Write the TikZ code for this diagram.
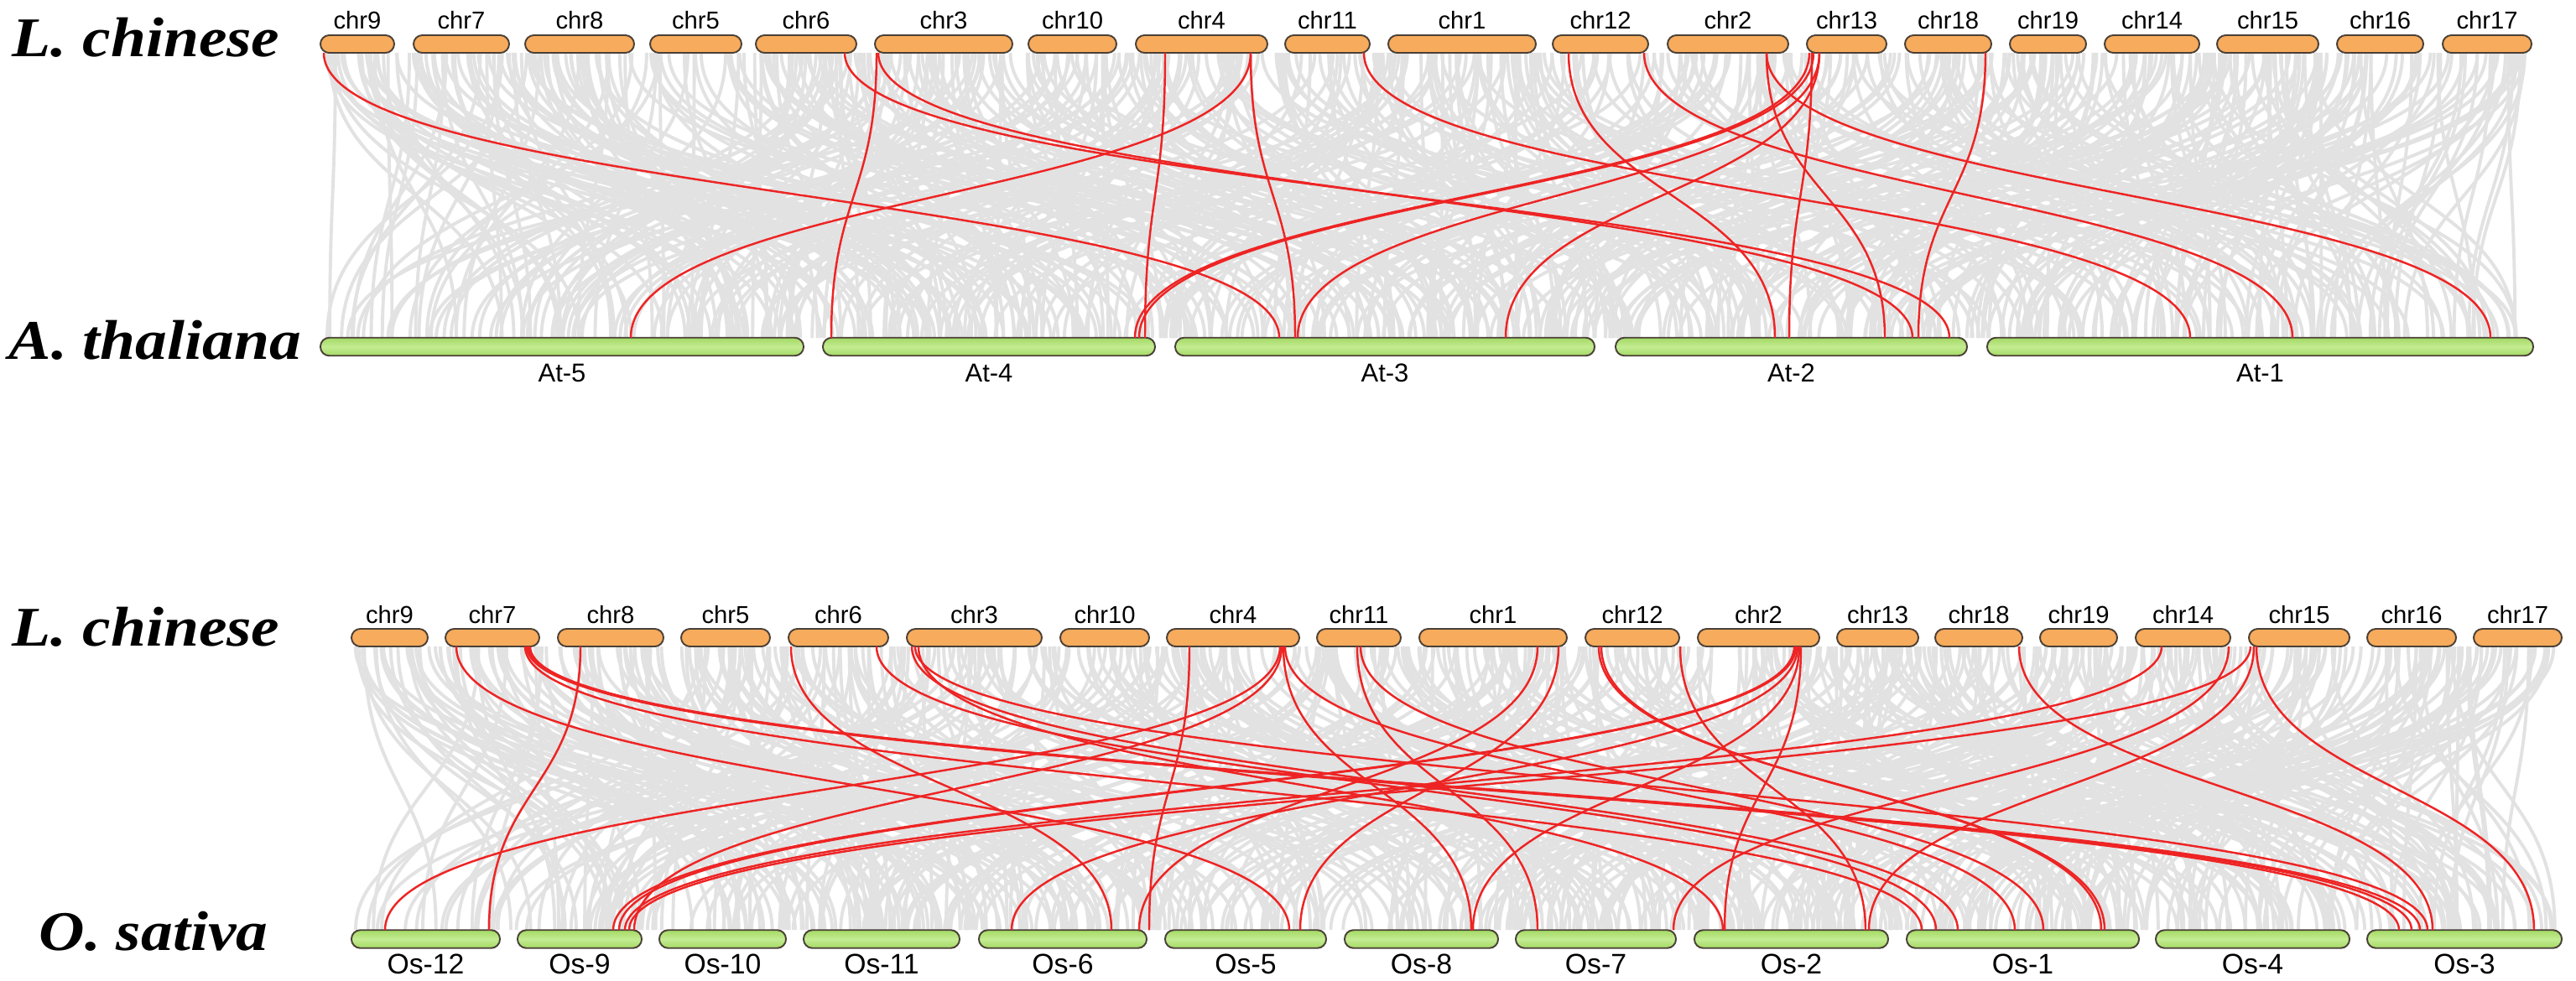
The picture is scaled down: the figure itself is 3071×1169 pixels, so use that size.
\documentclass[tikz,border=0pt]{standalone}
\usepackage{fontspec}
\setmainfont{Liberation Serif}
\setsansfont{Liberation Sans}
\usetikzlibrary{calc}
\definecolor{chrorange}{HTML}{F7AB5C}
\definecolor{chrgreen}{HTML}{A3D964}
\definecolor{chrgreenlt}{HTML}{C4EC92}
\definecolor{chredge}{HTML}{4A4037}
\definecolor{linkred}{HTML}{EE2424}
\definecolor{linkgrey}{HTML}{E2E2E2}
\newcommand\rl[4]{\draw[redlink] (#1.south -| #2,0) .. controls +(0,170) and +(0,-170) .. (#3.north -| #4,0);}
\newcommand\chrbar[8]{%
  \pgfmathsetmacro\cx{(#2+#3)/2}%
  \pgfmathsetmacro\cw{(#3-#2)*0.01}%
  \node[#5, minimum width=\cw cm] (#1) at (\cx,#4) {};
  \node[#6] (#1l) at (\cx,#7) {#8};}
\begin{document}
\begin{tikzpicture}[x=0.01cm,y=-0.01cm,
  orangebox/.style={draw=chredge, line width=0.55pt, fill=chrorange, rounded corners=0.105cm, minimum height=0.21cm, inner sep=0pt, outer sep=0pt},
  greenbox/.style={draw=chredge, line width=0.55pt, top color=chrgreen, bottom color=chrgreen, middle color=chrgreenlt, rounded corners=0.105cm, minimum height=0.215cm, inner sep=0pt, outer sep=0pt},
  chrlab/.style={font=\sffamily\fontsize{8.3pt}{9pt}\selectfont, inner sep=0pt},
  atlab/.style={font=\sffamily\fontsize{8.8pt}{9pt}\selectfont, inner sep=0pt},
  oslab/.style={font=\sffamily\fontsize{9.6pt}{10pt}\selectfont, inner sep=0pt},
  species/.style={font=\bfseries\itshape\fontsize{19pt}{21pt}\selectfont, inner sep=0pt, anchor=base west},
  redlink/.style={draw=linkred, line width=0.7pt},
  greylink/.style={draw=linkgrey, line width=1.1pt}]
\useasboundingbox (0,0) rectangle (3071,1169);
\fill[white] (0,0) rectangle (3071,1169);
% grey background links
\coordinate (topA) at (0,63);
\coordinate (botA) at (0,403);
\coordinate (topB) at (0,771);
\coordinate (botB) at (0,1109);
\pgfmathsetseed{1234}
\foreach \i in {1,...,650}{
  \pgfmathsetmacro\xa{388+rnd*2626}
  \pgfmathsetmacro\lo{max(388,\xa-800)}
  \pgfmathsetmacro\hi{min(3014,\xa+800)}
  \pgfmathsetmacro\xb{\lo+rnd*(\hi-\lo)}
  \draw[greylink] (topA -| \xa,0) .. controls +(0,170) and +(0,-170) .. (botA -| \xb,0);
}
\foreach \i in {1,...,650}{
  \pgfmathsetmacro\xa{423+rnd*2626}
  \pgfmathsetmacro\lo{max(423,\xa-800)}
  \pgfmathsetmacro\hi{min(3049,\xa+800)}
  \pgfmathsetmacro\xb{\lo+rnd*(\hi-\lo)}
  \draw[greylink] (topB -| \xa,0) .. controls +(0,170) and +(0,-170) .. (botB -| \xb,0);
}
% species labels
\node[species] (sp1) at (14,67) {\scalebox{1.13}[1]{L. chinese}};
\node[species] (sp2) at (10,428) {\scalebox{1.13}[1]{A. thaliana}};
\node[species] (sp3) at (14,770) {\scalebox{1.13}[1]{L. chinese}};
\node[species] (sp4) at (46,1133) {\scalebox{1.13}[1]{O. sativa}};
% row 1
\chrbar{Tc9}{382}{470}{52.5}{orangebox}{chrlab}{24}{chr9}
\chrbar{Tc7}{493}{607}{52.5}{orangebox}{chrlab}{24}{chr7}
\chrbar{Tc8}{626}{756}{52.5}{orangebox}{chrlab}{24}{chr8}
\chrbar{Tc5}{775}{884}{52.5}{orangebox}{chrlab}{24}{chr5}
\chrbar{Tc6}{901}{1021}{52.5}{orangebox}{chrlab}{24}{chr6}
\chrbar{Tc3}{1043}{1207}{52.5}{orangebox}{chrlab}{24}{chr3}
\chrbar{Tc10}{1226}{1331}{52.5}{orangebox}{chrlab}{24}{chr10}
\chrbar{Tc4}{1354}{1511}{52.5}{orangebox}{chrlab}{24}{chr4}
\chrbar{Tc11}{1532}{1633}{52.5}{orangebox}{chrlab}{24}{chr11}
\chrbar{Tc1}{1655}{1831}{52.5}{orangebox}{chrlab}{24}{chr1}
\chrbar{Tc12}{1851}{1965}{52.5}{orangebox}{chrlab}{24}{chr12}
\chrbar{Tc2}{1988}{2132}{52.5}{orangebox}{chrlab}{24}{chr2}
\chrbar{Tc13}{2154}{2249}{52.5}{orangebox}{chrlab}{24}{chr13}
\chrbar{Tc18}{2271}{2374}{52.5}{orangebox}{chrlab}{24}{chr18}
\chrbar{Tc19}{2396}{2487}{52.5}{orangebox}{chrlab}{24}{chr19}
\chrbar{Tc14}{2509}{2622}{52.5}{orangebox}{chrlab}{24}{chr14}
\chrbar{Tc15}{2643}{2764}{52.5}{orangebox}{chrlab}{24}{chr15}
\chrbar{Tc16}{2786}{2889}{52.5}{orangebox}{chrlab}{24}{chr16}
\chrbar{Tc17}{2912}{3018}{52.5}{orangebox}{chrlab}{24}{chr17}
% row 2
\chrbar{At5}{382}{958}{413.5}{greenbox}{atlab}{445}{At-5}
\chrbar{At4}{981}{1377}{413.5}{greenbox}{atlab}{445}{At-4}
\chrbar{At3}{1401}{1901}{413.5}{greenbox}{atlab}{445}{At-3}
\chrbar{At2}{1926}{2345}{413.5}{greenbox}{atlab}{445}{At-2}
\chrbar{At1}{2369}{3020}{413.5}{greenbox}{atlab}{445}{At-1}
% row 3
\chrbar{Bc9}{419}{510}{760.5}{orangebox}{chrlab}{733}{chr9}
\chrbar{Bc7}{531}{643}{760.5}{orangebox}{chrlab}{733}{chr7}
\chrbar{Bc8}{665}{791}{760.5}{orangebox}{chrlab}{733}{chr8}
\chrbar{Bc5}{812}{918}{760.5}{orangebox}{chrlab}{733}{chr5}
\chrbar{Bc6}{940}{1059}{760.5}{orangebox}{chrlab}{733}{chr6}
\chrbar{Bc3}{1081}{1242}{760.5}{orangebox}{chrlab}{733}{chr3}
\chrbar{Bc10}{1264}{1370}{760.5}{orangebox}{chrlab}{733}{chr10}
\chrbar{Bc4}{1391}{1549}{760.5}{orangebox}{chrlab}{733}{chr4}
\chrbar{Bc11}{1570}{1670}{760.5}{orangebox}{chrlab}{733}{chr11}
\chrbar{Bc1}{1692}{1868}{760.5}{orangebox}{chrlab}{733}{chr1}
\chrbar{Bc12}{1890}{2002}{760.5}{orangebox}{chrlab}{733}{chr12}
\chrbar{Bc2}{2024}{2169}{760.5}{orangebox}{chrlab}{733}{chr2}
\chrbar{Bc13}{2190}{2287}{760.5}{orangebox}{chrlab}{733}{chr13}
\chrbar{Bc18}{2307}{2411}{760.5}{orangebox}{chrlab}{733}{chr18}
\chrbar{Bc19}{2432}{2524}{760.5}{orangebox}{chrlab}{733}{chr19}
\chrbar{Bc14}{2546}{2659}{760.5}{orangebox}{chrlab}{733}{chr14}
\chrbar{Bc15}{2681}{2801}{760.5}{orangebox}{chrlab}{733}{chr15}
\chrbar{Bc16}{2822}{2928}{760.5}{orangebox}{chrlab}{733}{chr16}
\chrbar{Bc17}{2949}{3054}{760.5}{orangebox}{chrlab}{733}{chr17}
% row 4
\chrbar{Os12}{419}{596}{1120}{greenbox}{oslab}{1150}{Os-12}
\chrbar{Os9}{617}{765}{1120}{greenbox}{oslab}{1150}{Os-9}
\chrbar{Os10}{786}{937}{1120}{greenbox}{oslab}{1150}{Os-10}
\chrbar{Os11}{958}{1144}{1120}{greenbox}{oslab}{1150}{Os-11}
\chrbar{Os6}{1167}{1367}{1120}{greenbox}{oslab}{1150}{Os-6}
\chrbar{Os5}{1389}{1581}{1120}{greenbox}{oslab}{1150}{Os-5}
\chrbar{Os8}{1603}{1786}{1120}{greenbox}{oslab}{1150}{Os-8}
\chrbar{Os7}{1807}{1998}{1120}{greenbox}{oslab}{1150}{Os-7}
\chrbar{Os2}{2020}{2251}{1120}{greenbox}{oslab}{1150}{Os-2}
\chrbar{Os1}{2273}{2550}{1120}{greenbox}{oslab}{1150}{Os-1}
\chrbar{Os4}{2570}{2801}{1120}{greenbox}{oslab}{1150}{Os-4}
\chrbar{Os3}{2822}{3054}{1120}{greenbox}{oslab}{1150}{Os-3}
% red links, top panel
\rl{Tc9}{386}{At3}{1525}
\rl{Tc6}{1007}{At2}{2324}
\rl{Tc3}{1045}{At4}{991}
\rl{Tc3}{1047}{At2}{2280}
\rl{Tc4}{1389}{At4}{1365}
\rl{Tc4}{1491}{At5}{752}
\rl{Tc4}{1491}{At3}{1544}
\rl{Tc13}{2157}{At4}{1353}
\rl{Tc13}{2162}{At4}{1358}
\rl{Tc13}{2169}{At3}{1547}
\rl{Tc13}{2169}{At3}{1795}
\rl{Tc13}{2160}{At2}{2133}
\rl{Tc12}{1870}{At2}{2116}
\rl{Tc12}{1960}{At1}{2733}
\rl{Tc11}{1626}{At1}{2611}
\rl{Tc2}{2106}{At2}{2247}
\rl{Tc2}{2106}{At1}{2969}
\rl{Tc18}{2367}{At2}{2287}
% red links, bottom panel
\rl{Bc7}{544}{Os5}{1537}
\rl{Bc7}{626}{Os1}{2291}
\rl{Bc7}{628}{Os3}{2860}
\rl{Bc7}{630}{Os3}{2875}
\rl{Bc7}{632}{Os3}{2885}
\rl{Bc8}{692}{Os12}{583}
\rl{Bc6}{943}{Os6}{1325}
\rl{Bc6}{1045}{Os1}{2308}
\rl{Bc3}{1087}{Os1}{2334}
\rl{Bc3}{1091}{Os3}{2894}
\rl{Bc3}{1095}{Os2}{2054}
\rl{Bc4}{1418}{Os6}{1370}
\rl{Bc4}{1526}{Os12}{459}
\rl{Bc4}{1528}{Os9}{756}
\rl{Bc4}{1530}{Os8}{1754}
\rl{Bc4}{1532}{Os1}{2402}
\rl{Bc11}{1618}{Os7}{1833}
\rl{Bc11}{1622}{Os1}{2436}
\rl{Bc1}{1833}{Os6}{1358}
\rl{Bc1}{1858}{Os5}{1550}
\rl{Bc12}{1906}{Os1}{2509}
\rl{Bc12}{1909}{Os1}{2505}
\rl{Bc12}{2003}{Os2}{2224}
\rl{Bc2}{2139}{Os9}{731}
\rl{Bc2}{2141}{Os9}{738}
\rl{Bc2}{2143}{Os6}{1206}
\rl{Bc2}{2145}{Os8}{1756}
\rl{Bc2}{2147}{Os2}{2056}
\rl{Bc18}{2407}{Os3}{2900}
\rl{Bc14}{2577}{Os9}{745}
\rl{Bc14}{2657}{Os7}{1995}
\rl{Bc15}{2683}{Os9}{750}
\rl{Bc15}{2687}{Os2}{2228}
\rl{Bc15}{2690}{Os3}{3021}
\end{tikzpicture}
\end{document}
